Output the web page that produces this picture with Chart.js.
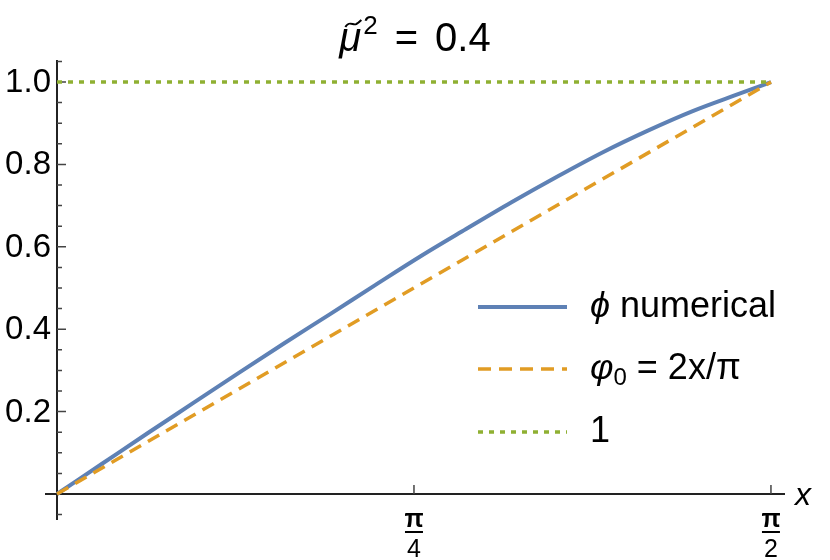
<!DOCTYPE html>
<html>
<head>
<meta charset="utf-8">
<title>phi numerical</title>
<script src="https://cdn.jsdelivr.net/npm/chart.js@4.4.1/dist/chart.umd.min.js"></script>
<style>
  html, body { margin: 0; padding: 0; background: #fff; }
  #wrap { width: 830px; height: 560px; }
</style>
</head>
<body>
<div id="wrap"><canvas id="phiChart" width="830" height="560"></canvas></div>
<script>
// values
var phiX = [0, 0.1, 0.2, 0.3, 0.4, 0.5, 0.6, 0.7, 0.8, 0.9, 1.0, 1.1, 1.2, 1.3, 1.4, 1.5, 1.571];
var phiY = [0, 0.074, 0.148, 0.221, 0.294, 0.366, 0.436, 0.507, 0.577, 0.643, 0.708, 0.770, 0.829, 0.882, 0.930, 0.971, 1.0];
var phi0X = [0, 0.785, 1.571];
var phi0Y = [0, 0.5, 1.0];
var oneX = [0, 1.571];
var oneY = [1, 1];

var yMajorTicks = [0.2, 0.4, 0.6, 0.8, 1.0];
var yTickLabels = ['0.2', '0.4', '0.6', '0.8', '1.0'];
var yMinorTicks = [-0.05, 0.05, 0.1, 0.15, 0.25, 0.3, 0.35, 0.45, 0.5, 0.55, 0.65, 0.7, 0.75, 0.85, 0.9, 0.95, 1.05];
var xMajorTicks = [Math.PI / 4, Math.PI / 2];
var xTickDenoms = ['4', '2'];

var blue = '#5E81B5', orange = '#E19C24', green = '#8FB032';
var fontFamily = '"Liberation Sans", Arial, Helvetica, sans-serif';

const toPoints = (xs, ys) => xs.map((v, i) => ({ x: v, y: ys[i] }));

// axes through the origin, ticks, fraction labels
const axesPlugin = {
    id: 'mmaAxes',
    beforeDatasetsDraw(chart) {
        const { ctx, scales: { x, y } } = chart;
        const x0 = x.getPixelForValue(0);
        const y0 = y.getPixelForValue(0);
        ctx.save();
        ctx.strokeStyle = '#222';
        ctx.lineWidth = 2;
        ctx.beginPath();
        ctx.moveTo(x.left, y0); ctx.lineTo(x.right, y0);
        ctx.moveTo(x0, y.top); ctx.lineTo(x0, y.bottom);
        ctx.stroke();

        ctx.strokeStyle = '#444';
        ctx.lineWidth = 1.5;
        ctx.beginPath();
        for (const v of yMinorTicks) {
            const py = y.getPixelForValue(v);
            ctx.moveTo(x0, py); ctx.lineTo(x0 + 5, py);
        }
        for (const v of yMajorTicks) {
            const py = y.getPixelForValue(v);
            ctx.moveTo(x0, py); ctx.lineTo(x0 + 9, py);
        }
        for (const v of xMajorTicks) {
            const px = x.getPixelForValue(v);
            ctx.moveTo(px, y0); ctx.lineTo(px, y0 - 9);
        }
        ctx.stroke();

        // y tick labels
        ctx.fillStyle = '#000';
        ctx.font = '33px ' + fontFamily;
        ctx.textAlign = 'right';
        ctx.textBaseline = 'middle';
        yMajorTicks.forEach((v, i) => {
            ctx.fillText(yTickLabels[i], x0 - 6, y.getPixelForValue(v) + 1);
        });

        // x tick labels as stacked fractions
        ctx.textAlign = 'center';
        ctx.textBaseline = 'alphabetic';
        xMajorTicks.forEach((v, i) => {
            const px = x.getPixelForValue(v);
            ctx.font = 'bold 25px ' + fontFamily;
            ctx.fillText('\u03C0', px, y0 + 33);
            ctx.fillRect(px - 9, y0 + 37, 18, 2);
            ctx.font = '25px ' + fontFamily;
            ctx.fillText(xTickDenoms[i], px, y0 + 63);
        });

        // axis label
        ctx.font = 'italic 32px ' + fontFamily;
        ctx.textAlign = 'left';
        ctx.textBaseline = 'middle';
        ctx.fillText('x', x.right + 10, y0 + 2);
        ctx.restore();
    },
    afterDraw(chart) {
        const { ctx } = chart;
        ctx.save();
        ctx.fillStyle = '#000';
        ctx.textAlign = 'left';

        // title: mu tilde squared = 0.4
        const tBase = 51;
        ctx.textBaseline = 'alphabetic';
        ctx.font = 'italic 40px ' + fontFamily;
        const muW = ctx.measureText('\u03BC').width;
        ctx.font = '26px ' + fontFamily;
        const supW = ctx.measureText('2').width;
        ctx.font = '40px ' + fontFamily;
        const eqW = ctx.measureText('=').width;
        const valW = ctx.measureText('0.4').width;
        const gap = 17;
        const total = muW + 2 + supW + gap + eqW + gap + valW;
        let tx = chart.width / 2 - total / 2;
        ctx.font = 'italic 40px ' + fontFamily;
        ctx.fillText('\u03BC', tx, tBase);
        ctx.strokeStyle = '#000';
        ctx.lineWidth = 2;
        ctx.beginPath();
        ctx.moveTo(tx + 6, tBase - 24);
        ctx.bezierCurveTo(tx + 10, tBase - 31, tx + 14, tBase - 25, tx + 17, tBase - 27);
        ctx.bezierCurveTo(tx + 19, tBase - 28, tx + 21, tBase - 30, tx + 22, tBase - 31);
        ctx.stroke();
        tx += muW + 2;
        ctx.font = '26px ' + fontFamily;
        ctx.fillText('2', tx, tBase - 17);
        tx += supW + gap;
        ctx.font = '40px ' + fontFamily;
        ctx.fillText('=', tx, tBase);
        tx += eqW + gap;
        ctx.fillText('0.4', tx, tBase);

        // legend
        const rows = [
            { color: blue, dash: [], width: 4, y: 307 },
            { color: orange, dash: [13, 8], width: 3.5, y: 369 },
            { color: green, dash: [5, 6], width: 3.5, y: 432 }
        ];
        for (const r of rows) {
            ctx.strokeStyle = r.color;
            ctx.lineWidth = r.width;
            ctx.setLineDash(r.dash);
            ctx.beginPath();
            ctx.moveTo(478, r.y); ctx.lineTo(567, r.y);
            ctx.stroke();
        }
        ctx.setLineDash([]);
        ctx.textBaseline = 'middle';
        // row 1
        ctx.font = 'italic 36px ' + fontFamily;
        ctx.fillText('\u03D5', 590, rows[0].y);
        let w = ctx.measureText('\u03D5').width;
        ctx.font = '36px ' + fontFamily;
        ctx.fillText(' numerical', 590 + w, rows[0].y);
        // row 2
        ctx.font = 'italic 36px ' + fontFamily;
        ctx.fillText('\u03C6', 590, rows[1].y);
        w = ctx.measureText('\u03C6').width;
        ctx.font = '24px ' + fontFamily;
        ctx.fillText('0', 590 + w, rows[1].y + 9);
        w += ctx.measureText('0').width;
        ctx.font = '36px ' + fontFamily;
        ctx.fillText(' = 2x/\u03C0', 590 + w, rows[1].y);
        // row 3
        ctx.fillText('1', 590, rows[2].y);
        ctx.restore();
    }
};

var phiConfig = {
    type: 'scatter',
    data: {
        datasets: [{
            label: '\u03D5 numerical',
            data: toPoints(phiX, phiY),
            showLine: true,
            borderColor: blue,
            borderWidth: 4,
            pointRadius: 0,
            cubicInterpolationMode: 'monotone',
            order: 3,
        }, {
            label: '\u03C6\u2080 = 2x/\u03C0',
            data: toPoints(phi0X, phi0Y),
            showLine: true,
            borderColor: orange,
            borderWidth: 3.5,
            borderDash: [13, 8],
            pointRadius: 0,
            order: 2,
        }, {
            label: '1',
            data: toPoints(oneX, oneY),
            showLine: true,
            borderColor: green,
            borderWidth: 3.5,
            borderDash: [5, 6],
            pointRadius: 0,
            order: 1,
        },],
    },
    options: {
        responsive: false,
        animation: false,
        layout: {
            padding: { left: 45, right: 45, top: 60, bottom: 40 },
        },
        scales: {
            x: { type: 'linear', display: false, min: -0.0264, max: 1.6017 },
            y: { type: 'linear', display: false, min: -0.0631, max: 1.0534 },
        },
        plugins: {
            legend: { display: false },
            tooltip: { enabled: false },
            title: { display: false },
        },
    },
    plugins: [axesPlugin],
};

new Chart(document.getElementById('phiChart'), phiConfig);
</script>
</body>
</html>
